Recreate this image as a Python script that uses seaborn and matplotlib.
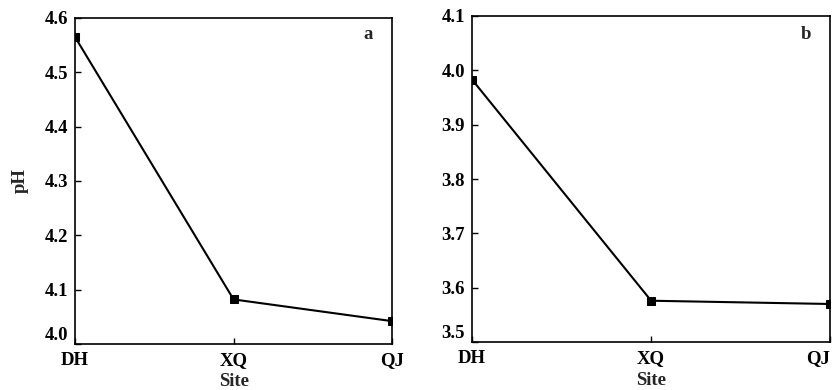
import matplotlib
matplotlib.use("Agg")
import matplotlib.pyplot as plt
import seaborn as sns
import pandas as pd

sites = ["DH", "XQ", "QJ"]
ph_a = [4.565, 4.082, 4.042]
ph_b = [3.983, 3.576, 3.570]
yticks_a = [4.0, 4.1, 4.2, 4.3, 4.4, 4.5, 4.6]
yticks_b = [3.5, 3.6, 3.7, 3.8, 3.9, 4.0, 4.1]

sns.set_theme(style="ticks")
plt.rcParams['font.family'] = ['Liberation Serif', 'DejaVu Serif']

fig = plt.figure(figsize=(8.39, 3.90), dpi=100)
ax_a = fig.add_axes([0.0894, 0.118, 0.378, 0.836])
ax_b = fig.add_axes([0.5626, 0.123, 0.427, 0.836])

fs = 13.5
panels = [(ax_a, ph_a, yticks_a, "a", "pH", 0.924, 0.948),
          (ax_b, ph_b, yticks_b, "b", "", 0.933, 0.942)]
for ax, vals, yt, lab, ylab, lx, ly in panels:
    df = pd.DataFrame({"x": range(len(sites)), "pH": vals})
    sns.lineplot(data=df, x="x", y="pH", ax=ax, color="black", linewidth=1.5,
                 marker="s", markersize=5.5, markerfacecolor="black",
                 markeredgecolor="black")
    ax.set_xlim(0, len(sites) - 1)
    ax.set_ylim(yt[0], yt[-1])
    ax.set_xticks(range(len(sites)))
    ax.set_xticklabels(sites)
    ax.set_yticks(yt)
    ax.set_yticklabels([f"{v:.1f}" for v in yt])
    ax.tick_params(axis="both", direction="in", length=4, width=1, colors="black",
                   labelsize=fs)
    ax.tick_params(axis="x", pad=6)
    ax.tick_params(axis="y", pad=5)
    for t in ax.get_xticklabels() + ax.get_yticklabels():
        t.set_fontweight("bold")
    ax.get_yticklabels()[0].set_verticalalignment("bottom")
    for s in ax.spines.values():
        s.set_linewidth(1.2)
        s.set_color("black")
    ax.set_xlabel("Site", fontsize=fs, fontweight="bold", labelpad=3)
    ax.set_ylabel(ylab, fontsize=fs, fontweight="bold", labelpad=11)
    ax.text(lx, ly, lab, transform=ax.transAxes, fontsize=fs,
            fontweight="bold", ha="center", va="center")
    ax.grid(False)

ax_b.get_xticklabels()[-1].set_horizontalalignment("right")

fig.savefig("out.png", dpi=100)
